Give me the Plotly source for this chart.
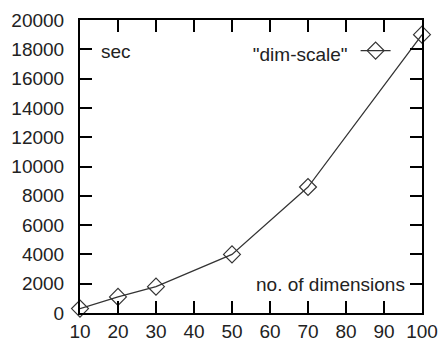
import plotly.graph_objects as go

dims = [10, 20, 30, 50, 70, 100]
secs = [300, 1100, 1800, 4000, 8600, 19000]
x_ticks = [10, 20, 30, 40, 50, 60, 70, 80, 90, 100]
y_ticks = [0, 2000, 4000, 6000, 8000, 10000, 12000, 14000, 16000, 18000, 20000]
y_labels = [str(v) for v in y_ticks]

FONT = "Liberation Sans, Arial, sans-serif"
FS = 19

fig = go.Figure()
fig.add_trace(go.Scatter(
    x=dims, y=secs, mode="lines+markers", name="",
    line=dict(color="#333333", width=1.2),
    marker=dict(symbol="diamond-open", size=13, color="#333333", line=dict(width=1.2)),
    cliponaxis=False,
))

axis_common = dict(
    showgrid=False, zeroline=False, showline=True, linecolor="black", linewidth=2,
    mirror="allticks", ticks="inside", ticklen=12, tickwidth=2, tickcolor="black",
    tickfont=dict(family=FONT, size=FS, color="#222"), automargin=False,
)
fig.update_xaxes(range=[10, 100], tickmode="array", tickvals=x_ticks,
                 ticklabelstandoff=0, **axis_common)
fig.update_yaxes(range=[0, 20000], tickmode="array", tickvals=y_ticks, ticktext=y_labels,
                 ticklabelstandoff=10, **axis_common)

fig.update_layout(
    width=438, height=341,
    margin=dict(l=80, r=16, t=20, b=28),
    plot_bgcolor="white", paper_bgcolor="white",
    font=dict(family=FONT, size=FS, color="#222"),
    showlegend=True,
    legend=dict(
        x=0.938, y=0.945, xanchor="right", yanchor="top",
        bgcolor="rgba(0,0,0,0)",
        title=dict(text='"dim-scale"', side="left", font=dict(family=FONT, size=FS, color="#222")),
        font=dict(size=1),
        itemwidth=30,
    ),
    annotations=[
        dict(text="sec", xref="paper", yref="paper", x=0.055, y=0.893, xanchor="left",
             yanchor="middle", showarrow=False, font=dict(family=FONT, size=FS, color="#222")),
        dict(text="no. of dimensions", xref="paper", yref="paper", x=0.955, y=0.096,
             xanchor="right", yanchor="middle", showarrow=False,
             font=dict(family=FONT, size=FS, color="#222")),
    ],
)

fig.write_html("out.html")
